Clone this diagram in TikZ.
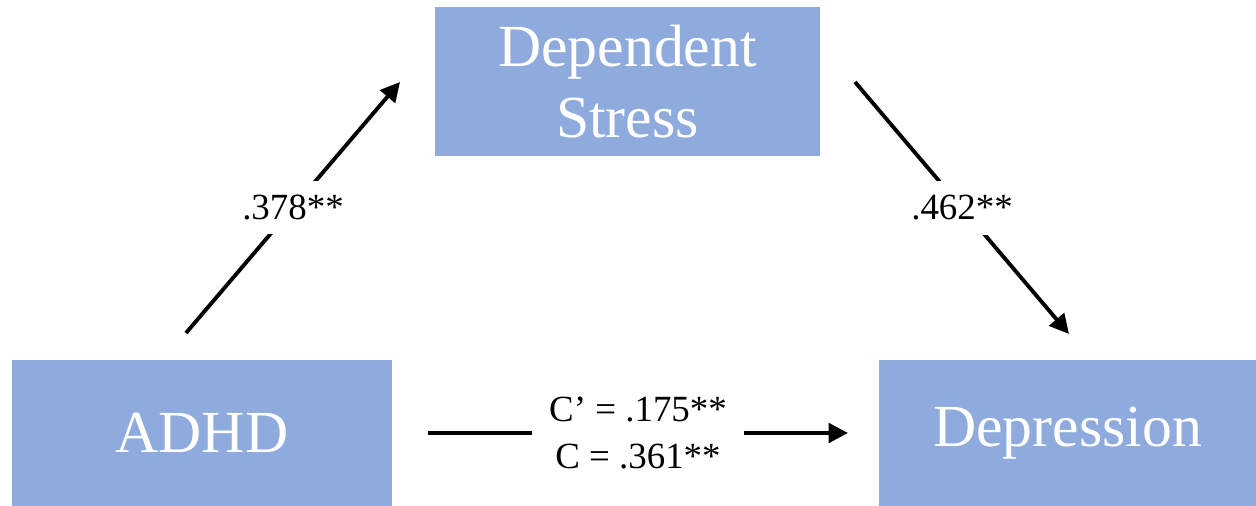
\documentclass[tikz,border=0pt]{standalone}
\usepackage{fontspec}
\setmainfont{Liberation Serif}
\usetikzlibrary{arrows.meta,positioning,calc}
\definecolor{boxblue}{HTML}{8FAADC}

\begin{document}
\begin{tikzpicture}[x=0.02cm,y=-0.02cm,>={Triangle[length=11pt,width=11pt]}]
\tikzset{
  var/.style={fill=boxblue,text=white,font=\fontsize{34}{40}\selectfont,align=center,inner sep=0pt},
  pathline/.style={->,line width=2.2pt},
  coef/.style={fill=white,font=\fontsize{21}{27}\selectfont,align=center,inner xsep=10pt,inner ysep=8pt}
}
\useasboundingbox (0,0) rectangle (1256,506);
% variables
\node[var,minimum width=7.7cm,minimum height=2.98cm] (stress) at (627.5,81.5) {Dependent\\Stress};
\node[var,minimum width=7.6cm,minimum height=2.92cm] (adhd) at (202,433) {ADHD};
\node[var,minimum width=7.54cm,minimum height=2.92cm] (dep) at (1067.5,433) {Depression};
% free ends of the paths
\coordinate (a-out) at (186,333);
\coordinate (a-in) at (400,82);
\coordinate (b-out) at (855,82);
\coordinate (b-in) at (1069,334);
\coordinate (c-out) at (428,433);
\coordinate (c-in) at (848,433);
% paths
\draw[pathline] (a-out) -- node[coef] (a-lbl) {.378**} (a-in);
\draw[pathline] (b-out) -- node[coef] (b-lbl) {.462**} (b-in);
\draw[pathline] (c-out) -- node[coef] (c-lbl) {C’ = .175**\\C = .361**} (c-in);
\end{tikzpicture}
\end{document}
